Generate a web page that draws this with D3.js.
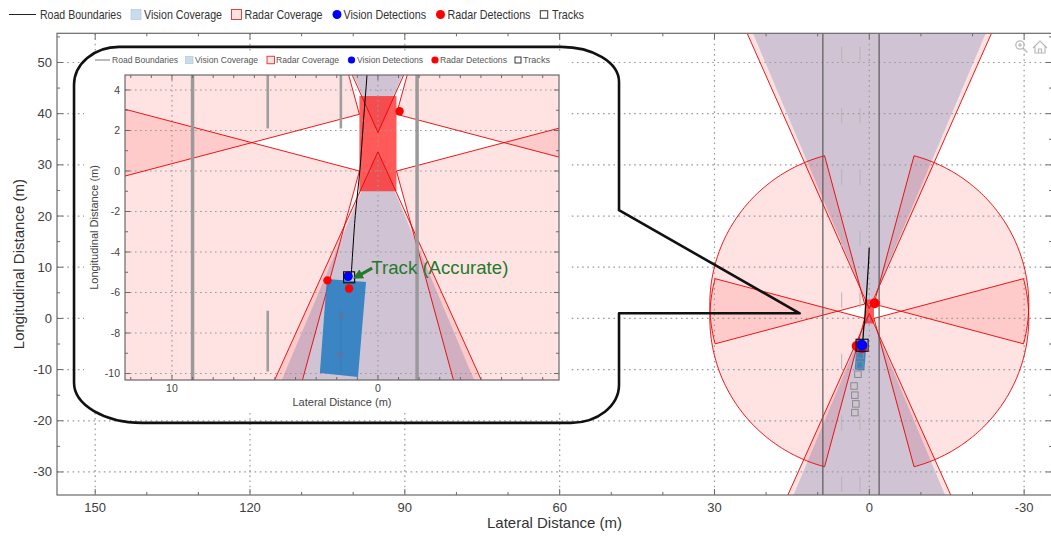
<!DOCTYPE html>
<html><head><meta charset="utf-8">
<script src="https://cdn.jsdelivr.net/npm/d3@7/dist/d3.min.js"></script>
<style>
body{margin:0;background:#fff}
svg{display:block}
text{font-family:"Liberation Sans",Arial,sans-serif}
</style>
</head><body>
<svg id="c" width="1051" height="537"></svg>
<script>
// ================= DATA =================
const legendLabels = ["Road Boundaries","Vision Coverage","Radar Coverage","Vision Detections","Radar Detections","Tracks"];
const xTicksMain = [150,120,90,60,30,0,-30];
const yTicksMain = [50,40,30,20,10,0,-10,-20,-30];
const xTicksInset = [10,0];
const yTicksInset = [4,2,0,-2,-4,-6,-8,-10];

// sensors: mounting position (lat, long in m), yaw (deg, + toward left), field of view (deg), range (m)
const radarSensors = [
  {lat:0,    long:1.9,  yaw:0,    fov:47.5, range:174},
  {lat:0,    long:0.95, yaw:180,  fov:48,   range:174},
  {lat:0.9,  long:2.8,  yaw:60,   fov:90,   range:30},
  {lat:0.9,  long:0,    yaw:120,  fov:90,   range:30},
  {lat:-0.9, long:2.8,  yaw:-60,  fov:90,   range:30},
  {lat:-0.9, long:0,    yaw:-120, fov:90,   range:30}
];
const visionSensors = [
  {lat:0, long:1.9,  yaw:0,   fov:45.5, range:150},
  {lat:0, long:0.95, yaw:180, fov:45,   range:150}
];
const roadBoundaryLat = [9.0, -1.9];
const laneMarkingLat = [5.35, 1.8];
const laneDashStart = [-33.9, -21.9, -9.9, 2.1, 14.1, 26.1, 38.1, 50.1];
const laneDashLength = 3;
const egoCar = {latLeft:0.9, latRight:-0.9, longRear:-1.0, longFront:3.7};
const targetCar = [[2.82,-9.97],[0.97,-10.17],[0.58,-5.48],[2.48,-5.33]];
const radarDetections = [{lat:2.45,long:-5.4},{lat:1.4,long:-5.8},{lat:-1.05,long:2.95}];
const visionDetections = [{lat:1.45,long:-5.2}];
const trackPositions = [{lat:1.4,long:-5.25}];
const trackHistory = [{lat:1.75,long:-7.15},{lat:1.85,long:-9.1},{lat:2.2,long:-10.9},{lat:2.95,long:-13.2},{lat:2.8,long:-15.0},{lat:2.6,long:-16.7},{lat:2.8,long:-18.4}];
const trackPath = [[1.3,-5.2],[1.1,-2.2],[0.88,0],[0.7,2.5],[0.53,4.75],[0.33,8],[0.14,11],[0.02,13.8]];
// callout balloon (main-axis data coords)
const callout = {left:154.1, right:48.5, top:53.05, bottom:-20.4, notchTop:21.15, tipLat:13.5, tipLong:1.0, baseLong:1.0};
const annotationText = "Track (Accurate)";

// ================= STYLE / LAYOUT =================
const RADAR_FILL = "rgba(255,0,0,0.11)";
const RADAR_EDGE = "rgba(232,0,0,0.9)";
const VISION_FILL = "rgba(20,76,156,0.2)";
const svg = d3.select("#c");
const defs = svg.append("defs");

const M = {x0:57, x1:1052, y0:33.3, y1:495};
const xMain = d3.scaleLinear().domain([157.4,-35.4]).range([M.x0,M.x1]);
const yMain = d3.scaleLinear().domain([55.7,-34.5]).range([M.y0,M.y1]);
const I = {x0:125, x1:559, y0:75, y1:380};
const xIn = d3.scaleLinear().domain([12.28,-8.79]).range([I.x0,I.x1]);
const yIn = d3.scaleLinear().domain([4.74,-10.32]).range([I.y0,I.y1]);

function sectorPts(s, xs, ys){
  const pts=[[xs(s.lat),ys(s.long)]];
  const a0=(s.yaw-s.fov/2)*Math.PI/180, a1=(s.yaw+s.fov/2)*Math.PI/180;
  const n=Math.ceil(s.fov);
  for(let i=0;i<=n;i++){
    const a=a0+(a1-a0)*i/n;
    pts.push([xs(s.lat+s.range*Math.sin(a)), ys(s.long+s.range*Math.cos(a))]);
  }
  return pts;
}

function grid(g, xs, ys, xt, yt, box, dash){
  g.selectAll(null).data(xt).join("line")
    .attr("x1",d=>xs(d)).attr("x2",d=>xs(d)).attr("y1",box.y0).attr("y2",box.y1)
    .attr("stroke","#9a9a9a").attr("stroke-width",1.2).attr("stroke-dasharray",dash);
  g.selectAll(null).data(yt).join("line")
    .attr("y1",d=>ys(d)).attr("y2",d=>ys(d)).attr("x1",box.x0).attr("x2",box.x1)
    .attr("stroke","#9a9a9a").attr("stroke-width",1.2).attr("stroke-dasharray",dash);
}

function drawScene(g, xs, ys, st){
  const line = d3.line();
  // coverage fills
  g.selectAll(null).data(radarSensors).join("path")
    .attr("d",d=>line(sectorPts(d,xs,ys))+"Z").attr("fill",RADAR_FILL).attr("stroke","none");
  g.selectAll(null).data(visionSensors).join("path")
    .attr("d",d=>line(sectorPts(d,xs,ys))+"Z").attr("fill",VISION_FILL).attr("stroke","none");
  // ego vehicle (semi-opaque over coverage)
  g.append("rect").attr("x",xs(egoCar.latLeft)).attr("y",ys(egoCar.longFront))
    .attr("width",xs(egoCar.latRight)-xs(egoCar.latLeft)).attr("height",ys(egoCar.longRear)-ys(egoCar.longFront))
    .attr("fill","#ff2a2a").attr("opacity",0.78);
  st.gridFn(g);
  g.selectAll(null).data(radarSensors).join("path")
    .attr("d",d=>line(sectorPts(d,xs,ys))+"Z").attr("fill","none").attr("stroke",RADAR_EDGE).attr("stroke-width",st.edgeW);
  // road
  const ylo = ys.domain()[1], yhi = ys.domain()[0];
  g.selectAll(null).data(roadBoundaryLat).join("line")
    .attr("x1",d=>xs(d)).attr("x2",d=>xs(d)).attr("y1",ys(yhi)).attr("y2",ys(ylo))
    .attr("stroke",st.roadColor).attr("stroke-width",st.roadW);
  const dashes=[];
  laneMarkingLat.forEach(l=>laneDashStart.forEach(s=>dashes.push({lat:l,s})));
  g.selectAll(null).data(dashes).join("line")
    .attr("x1",d=>xs(d.lat)).attr("x2",d=>xs(d.lat)).attr("y1",d=>ys(d.s)).attr("y2",d=>ys(d.s+laneDashLength))
    .attr("stroke",st.laneColor).attr("stroke-width",st.laneW);
  // target vehicle
  g.append("path").attr("d",line(targetCar.map(p=>[xs(p[0]),ys(p[1])]))+"Z")
    .attr("fill","#2f7fc2").attr("opacity",0.92);
  // track history
  g.selectAll(null).data(trackHistory).join("rect")
    .attr("x",d=>xs(d.lat)-st.histS/2).attr("y",d=>ys(d.long)-st.histS/2)
    .attr("width",st.histS).attr("height",st.histS)
    .attr("fill","none").attr("stroke",st.histColor).attr("stroke-width",1);
  // track path
  g.append("path").attr("d",d3.line().curve(d3.curveCatmullRom)(trackPath.map(p=>[xs(p[0]),ys(p[1])])))
    .attr("fill","none").attr("stroke","#000").attr("stroke-width",st.pathW);
  // detections
  g.selectAll(null).data(radarDetections).join("circle")
    .attr("cx",d=>xs(d.lat)).attr("cy",d=>ys(d.long)).attr("r",st.detR).attr("fill","#ff0000");
  g.selectAll(null).data(visionDetections).join("circle")
    .attr("cx",d=>xs(d.lat)).attr("cy",d=>ys(d.long)).attr("r",st.detR+0.5).attr("fill","#0000ff");
  g.selectAll(null).data(trackPositions).join("rect")
    .attr("x",d=>xs(d.lat)-st.trkS/2).attr("y",d=>ys(d.long)-st.trkS/2)
    .attr("width",st.trkS).attr("height",st.trkS)
    .attr("fill","none").attr("stroke","#111").attr("stroke-width",1.2);
}

function frameTicks(g, xs, ys, box, xMajor, xMinor, yMajor, yMinor, L, l, col){
  g.append("rect").attr("x",box.x0).attr("y",box.y0).attr("width",box.x1-box.x0).attr("height",box.y1-box.y0)
    .attr("fill","none").attr("stroke",col).attr("stroke-width",1.2);
  const t=[];
  xMajor.forEach(v=>t.push({x:xs(v),len:L,h:true}));
  xMinor.forEach(v=>t.push({x:xs(v),len:l,h:true}));
  yMajor.forEach(v=>t.push({y:ys(v),len:L,h:false}));
  yMinor.forEach(v=>t.push({y:ys(v),len:l,h:false}));
  t.forEach(d=>{
    if(d.h){
      if(d.x<box.x0||d.x>box.x1) return;
      g.append("line").attr("x1",d.x).attr("x2",d.x).attr("y1",box.y1).attr("y2",box.y1-d.len).attr("stroke",col);
      g.append("line").attr("x1",d.x).attr("x2",d.x).attr("y1",box.y0).attr("y2",box.y0+d.len).attr("stroke",col);
    } else {
      if(d.y<box.y0||d.y>box.y1) return;
      g.append("line").attr("y1",d.y).attr("y2",d.y).attr("x1",box.x0).attr("x2",box.x0+d.len).attr("stroke",col);
      g.append("line").attr("y1",d.y).attr("y2",d.y).attr("x1",box.x1).attr("x2",box.x1-d.len).attr("stroke",col);
    }
  });
}

// ================= MAIN VIEW =================
defs.append("clipPath").attr("id","clipMain").append("rect")
  .attr("x",M.x0).attr("y",M.y0).attr("width",M.x1-M.x0).attr("height",M.y1-M.y0);
const gMain = svg.append("g").attr("clip-path","url(#clipMain)");
drawScene(gMain, xMain, yMain, {
  gridFn: g=>grid(g, xMain, yMain, xTicksMain, yTicksMain, M, "1.6,3.6"),
  edgeW:1, roadColor:"#5a5a5a", roadW:1.2, laneColor:"#b4b4b4", laneW:1,
  histS:6.5, histColor:"#8a8a8a", pathW:1.2, detR:5, trkS:12
});
const xMinorMain = d3.range(150,-40,-10).filter(v=>!xTicksMain.includes(v));
const yMinorMain = d3.range(55,-35,-5).filter(v=>!yTicksMain.includes(v));
frameTicks(svg.append("g"), xMain, yMain, M, xTicksMain, xMinorMain, yTicksMain, yMinorMain, 6, 3, "#6a6a6a");

// main tick labels
svg.append("g").selectAll("text").data(xTicksMain).join("text")
  .attr("x",d=>xMain(d)).attr("y",512).attr("text-anchor","middle")
  .attr("font-size",13).attr("fill","#404040").text(d=>d);
svg.append("g").selectAll("text").data(yTicksMain).join("text")
  .attr("x",52).attr("y",d=>yMain(d)+4.5).attr("text-anchor","end")
  .attr("font-size",13).attr("fill","#404040").text(d=>d);
svg.append("text").attr("x",(M.x0+M.x1)/2).attr("y",528).attr("text-anchor","middle")
  .attr("font-size",15).attr("fill","#333").text("Lateral Distance (m)");
svg.append("text").attr("transform",`translate(24,${(M.y0+M.y1)/2}) rotate(-90)`).attr("text-anchor","middle")
  .attr("font-size",15).attr("fill","#333").text("Longitudinal Distance (m)");

// zoom / home icons
const ic = svg.append("g").attr("stroke","#b8b8b8").attr("fill","none").attr("stroke-width",1.2);
ic.append("circle").attr("cx",1020).attr("cy",45).attr("r",4.2);
ic.append("line").attr("x1",1023).attr("y1",48).attr("x2",1027.5).attr("y2",52.5);
ic.append("line").attr("x1",1018).attr("y1",45).attr("x2",1022).attr("y2",45);
ic.append("line").attr("x1",1020).attr("y1",43).attr("x2",1020).attr("y2",47);
ic.append("path").attr("d","M1033,48 L1040,41 L1047,48 M1035,46.5 L1035,53 L1045,53 L1045,46.5 M1038.5,53 L1038.5,49 L1041.5,49 L1041.5,53");

// ================= INSET (callout) =================
svg.append("rect").attr("x",84).attr("y",51).attr("width",484).attr("height",362).attr("fill","#fff");
defs.append("clipPath").attr("id","clipIn").append("rect")
  .attr("x",I.x0).attr("y",I.y0).attr("width",I.x1-I.x0).attr("height",I.y1-I.y0);
const gIn = svg.append("g").attr("clip-path","url(#clipIn)");
gIn.append("rect").attr("x",I.x0).attr("y",I.y0).attr("width",I.x1-I.x0).attr("height",I.y1-I.y0).attr("fill","#fff");
drawScene(gIn, xIn, yIn, {
  gridFn: g=>grid(g, xIn, yIn, xTicksInset, yTicksInset, I, "1.6,3.4"),
  edgeW:1, roadColor:"#9a9a9a", roadW:3.5, laneColor:"#9e9e9e", laneW:2.6,
  histS:4, histColor:"#6f6f8f", pathW:1, detR:4.2, trkS:11
});
frameTicks(svg.append("g"), xIn, yIn, I, xTicksInset, d3.range(12,-9,-1).filter(v=>!xTicksInset.includes(v)),
  yTicksInset, d3.range(4,-11,-1).filter(v=>!yTicksInset.includes(v)), 5, 3, "#6a6a6a");
svg.append("g").selectAll("text").data(xTicksInset).join("text")
  .attr("x",d=>xIn(d)).attr("y",392).attr("text-anchor","middle")
  .attr("font-size",10.5).attr("fill","#444").text(d=>d);
svg.append("g").selectAll("text").data(yTicksInset).join("text")
  .attr("x",120).attr("y",d=>yIn(d)+3.8).attr("text-anchor","end")
  .attr("font-size",10.5).attr("fill","#444").text(d=>d);
svg.append("text").attr("x",(I.x0+I.x1)/2).attr("y",406).attr("text-anchor","middle")
  .attr("font-size",11).attr("fill","#444").text("Lateral Distance (m)");
svg.append("text").attr("transform",`translate(98,${(I.y0+I.y1)/2}) rotate(-90)`).attr("text-anchor","middle")
  .attr("font-size",11).attr("fill","#444").text("Longitudinal Distance (m)");

// annotation
defs.append("marker").attr("id","arr").attr("viewBox","0 0 10 10").attr("refX",5).attr("refY",5)
  .attr("markerWidth",3.2).attr("markerHeight",3.2).attr("orient","auto")
  .append("path").attr("d","M0,0 L10,5 L0,10 Z").attr("fill","#237a2d");
svg.append("line").attr("x1",xIn(0.28)).attr("y1",yIn(-4.8)).attr("x2",xIn(1.0)).attr("y2",yIn(-5.2))
  .attr("stroke","#237a2d").attr("stroke-width",3.2).attr("marker-end","url(#arr)");
svg.append("text").attr("x",xIn(0.32)).attr("y",yIn(-5.1))
  .attr("font-family","'Open Sans',sans-serif").attr("font-size",19).attr("fill","#237a2d")
  .attr("textLength",137).attr("lengthAdjust","spacingAndGlyphs").text(annotationText);

// callout outline
{
  const L=xMain(callout.left), R=xMain(callout.right), T=yMain(callout.top), B=yMain(callout.bottom);
  const N=yMain(callout.notchTop), tx=xMain(callout.tipLat), ty=yMain(callout.tipLong), bY=yMain(callout.baseLong);
  const d=`M${L},${B-40} L${L},${T+38} A45,38 0 0 1 ${L+45},${T} L${R-58},${T} A58,35 0 0 1 ${R},${T+35}
    L${R},${N} L${tx},${ty} L${R},${bY} L${R},${B-38} A48,38 0 0 1 ${R-48},${B} L${L+68},${B} A68,40 0 0 1 ${L},${B-40} Z`;
  svg.append("path").attr("d",d).attr("fill","none").attr("stroke","#111").attr("stroke-width",2.6).attr("stroke-linejoin","round");
}

// ================= LEGENDS =================
function legend(g, cfg){
  const y=cfg.y;
  g.append("line").attr("x1",cfg.line[0]).attr("x2",cfg.line[1]).attr("y1",y).attr("y2",y).attr("stroke",cfg.lineColor).attr("stroke-width",1);
  const s=cfg.sw;
  g.append("rect").attr("x",cfg.vis).attr("y",y-s/2).attr("width",s).attr("height",s).attr("fill","#c9dcee").attr("stroke","#aac4de").attr("stroke-width",0.6);
  g.append("rect").attr("x",cfg.rad).attr("y",y-s/2).attr("width",s).attr("height",s).attr("fill","#fde0e0").attr("stroke","#e03030").attr("stroke-width",0.9);
  g.append("circle").attr("cx",cfg.bdot).attr("cy",y).attr("r",cfg.r).attr("fill","#0000ff");
  g.append("circle").attr("cx",cfg.rdot).attr("cy",y).attr("r",cfg.r).attr("fill","#ff0000");
  g.append("rect").attr("x",cfg.sq-cfg.sqs/2).attr("y",y-cfg.sqs/2).attr("width",cfg.sqs).attr("height",cfg.sqs).attr("fill","none").attr("stroke","#222").attr("stroke-width",0.9);
  g.selectAll("text").data(legendLabels).join("text")
    .attr("x",(d,i)=>cfg.tx[i]).attr("y",y+cfg.fs*0.36).attr("font-size",cfg.fs).attr("fill",cfg.tc)
    .attr("textLength",(d,i)=>cfg.tw[i]).attr("lengthAdjust","spacingAndGlyphs").text(d=>d);
}
legend(svg.append("g"), {y:14.5, line:[9,36], lineColor:"#222", sw:10, vis:131, rad:231.5, bdot:337, rdot:440.5, r:4.5, sq:544, sqs:7.5,
  tx:[40,144,244.5,343.5,447.5,552], tw:[81.5,78,78,82.5,83,32], fs:13, tc:"#333"});
legend(svg.append("g"), {y:60, line:[95,110], lineColor:"#777", sw:7.5, vis:185.5, rad:267, bdot:351.5, rdot:435, r:3.6, sq:518, sqs:6,
  tx:[112,195,276,357,440,523], tw:[66,63,63,66,67,27], fs:9, tc:"#555"});
</script>
</body></html>
